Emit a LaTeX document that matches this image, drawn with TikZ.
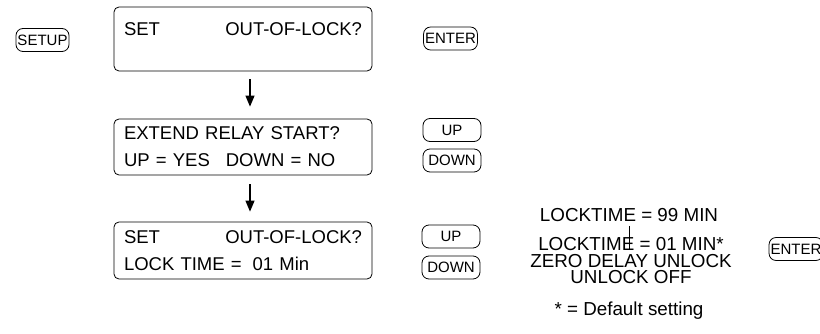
\documentclass[tikz,border=0pt]{standalone}
\usepackage{fontspec}
\setmainfont{Liberation Sans}
\usetikzlibrary{arrows.meta}

\begin{document}
\begin{tikzpicture}[x=1pt,y=-1pt,
  lcd/.style={draw,rounded corners=5pt,line width=0.8pt,minimum width=258pt,text width=238pt,align=left,inner xsep=10pt,font=\fontsize{18.5}{27}\selectfont},
  key/.style={draw,rounded corners=7pt,line width=0.8pt,minimum height=23pt,inner xsep=1.5pt,inner ysep=0pt,font=\fontsize{15}{18}\selectfont},
  menu/.style={align=center,inner sep=0pt,font=\fontsize{18.8}{16.5}\selectfont},
  flow/.style={line width=1.2pt,-{Triangle[length=11pt,width=9pt]}}]

\useasboundingbox (0,0) rectangle (820,334);

% display screens
\node[lcd,minimum height=64pt] (setbox) at (243,39) {};
\node[lcd,draw=none] (settext) at (243,29) {SET\hfill OUT-OF-LOCK?};
\node[lcd,minimum height=56pt] (relay) at (243,147) {EXTEND RELAY START?\\UP = YES\hspace{16pt}DOWN = NO};
\node[lcd,minimum height=57pt] (locktime) at (243,250.5) {SET\hfill OUT-OF-LOCK?\\LOCK TIME =\hspace{11pt}01 Min};

% keys
\node[key] (setup) at (42.5,40) {SETUP};
\node[key] (enter1) at (450.5,38.5) {ENTER};
\node[key,minimum width=58pt] (up1) at (452,130) {UP};
\node[key,minimum width=58pt] (down1) at (452,160.5) {DOWN};
\node[key,minimum width=58pt] (up2) at (451,236.5) {UP};
\node[key,minimum width=58pt] (down2) at (451,267.5) {DOWN};
\node[key] (enter2) at (796,249) {ENTER};

% choices
\node[menu] (lt99) at (629,215) {LOCKTIME = 99 MIN};
\node[menu] (opts) at (631,261) {LOCKTIME = 01 MIN*\\ZERO DELAY UNLOCK\\UNLOCK OFF};
\node[menu] (dflt) at (629,311) {* = Default setting};
\coordinate (tick) at (629,250);

\draw[flow] ([xshift=7pt,yshift=-8pt]setbox.south) -- ([xshift=7pt,yshift=12pt]relay.north);
\draw[flow] ([xshift=7pt,yshift=-9pt]relay.south) -- ([xshift=7pt,yshift=10pt]locktime.north);
\draw[line width=0.8pt] ([yshift=-4pt]lt99.south) -- (tick);
\end{tikzpicture}
\end{document}
